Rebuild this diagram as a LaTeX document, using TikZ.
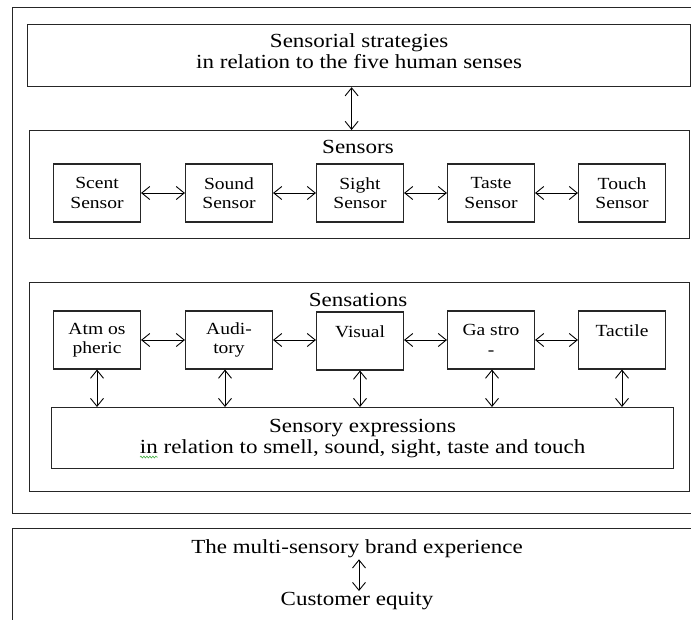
\documentclass[tikz,border=0pt]{standalone}
\usepackage{fontspec}
\setmainfont{Liberation Serif}[FakeStretch=1.15]
\usetikzlibrary{arrows.meta,decorations.pathmorphing}
\definecolor{wavegreen}{RGB}{60,170,60}
\newsavebox\spellbox
\newlength\spellwd
% green wavy underline under a word
\newcommand\spellmark[1]{\sbox\spellbox{#1}\setlength\spellwd{\wd\spellbox}%
  \rlap{\tikz[overlay]\draw[wavegreen, line width=0.6pt, decorate,
    decoration={snake, amplitude=0.9pt, segment length=3pt}] (0pt,-4pt) -- (\spellwd,-4pt);}%
  \usebox\spellbox}
\newcommand\bigtext{\fontsize{20}{21}\selectfont}
\newcommand\smalltext{\fontsize{17}{19.5}\selectfont}
\tikzset{
  x=1pt, y=-1pt,
  frame/.style={draw=black!85, line width=1.2pt, inner sep=0pt, anchor=north west},
  headbox/.style={frame, font=\bigtext, align=center},
  sensebox/.style={draw=black!85, line width=1.1pt, minimum width=87pt, minimum height=58pt,
    inner sep=0pt, font=\smalltext, align=center},
  caption/.style={inner sep=0pt, font=\bigtext, align=center},
  barb/.tip={Straight Barb[length=8pt,width=13pt,line width=0.9pt]},
  link/.style={line width=0.9pt, barb-barb}
}
\begin{document}
\begin{tikzpicture}
\clip (0,0) rectangle (691,619);
\fill[white] (0,0) rectangle (691,619);

% outer frames
\node[frame, minimum width=700pt, minimum height=506pt] (outerA) at (12,7) {};
\node[frame, minimum width=700pt, minimum height=110pt] (outerB) at (12,528) {};

% strategies (extra depth lifts the two lines a little)
\node[headbox, minimum width=663pt, minimum height=62pt] (strat) at (27,24)
  {Sensorial strategies\\in relation to the five human senses\rule[-8.5pt]{0pt}{1pt}};

% sensors group
\node[frame, minimum width=660pt, minimum height=108pt] (sensors) at (29,130) {};
\node[caption] (sensorsT) at (358,147) {Sensors};
\node[sensebox] (scent) at (97,193)  {Scent\\Sensor};
\node[sensebox] (sound) at (229,193) {Sound\\Sensor};
\node[sensebox] (sight) at (360,193) {Sight\\Sensor};
\node[sensebox] (taste) at (491,193) {Taste\\Sensor};
\node[sensebox] (touch) at (622,193) {Touch\\Sensor};

% sensations group
\node[frame, minimum width=660pt, minimum height=209pt] (sensations) at (29,282) {};
\node[caption] (sensationsT) at (358,300) {Sensations};
\node[sensebox] (atmos) at (97,340)  {Atm os\\pheric};
\node[sensebox] (audi)  at (229,340) {Audi-\\tory};
\node[sensebox] (visual) at (360,341) {Visual\\\mbox{}};
\node[sensebox] (gastro) at (491,340) {Ga stro\\-};
\node[sensebox] (tactile) at (622,340) {Tactile\\\mbox{}};

\node[headbox, minimum width=622pt, minimum height=61pt] (expr) at (51,407)
  {Sensory expressions\\\spellmark{in} relation to smell, sound, sight, taste and touch};

% brand experience
\node[caption] (brand) at (357,549) {The multi-sensory brand experience};
\node[caption] (equity) at (357,601) {Customer equity};

% connectors
\draw[link] ([xshift=-7.5pt]strat.south) -- ([xshift=-7.5pt]strat.south |- sensors.north);

\draw[link] (scent) -- (sound);
\draw[link] (sound) -- (sight);
\draw[link] (sight) -- (taste);
\draw[link] (taste) -- (touch);

\draw[link] (atmos.east) -- (audi.west);
\draw[link] (audi.east) -- (audi.east -| visual.west);
\draw[link] (gastro.west -| visual.east) -- (gastro.west);
\draw[link] (gastro.east) -- (tactile.west);

\draw[link] (atmos.south) -- (atmos.south |- expr.north);
\draw[link] ([xshift=-4pt]audi.south) -- ([xshift=-4pt]audi.south |- expr.north);
\draw[link] (visual.south) -- (visual.south |- expr.north);
\draw[link] ([xshift=1pt]gastro.south) -- ([xshift=1pt]gastro.south |- expr.north);
\draw[link] (tactile.south) -- (tactile.south |- expr.north);

\draw[link] ([xshift=2pt,yshift=-1pt]brand.south) -- ([xshift=2pt,yshift=1pt]equity.north);
\end{tikzpicture}
\end{document}
